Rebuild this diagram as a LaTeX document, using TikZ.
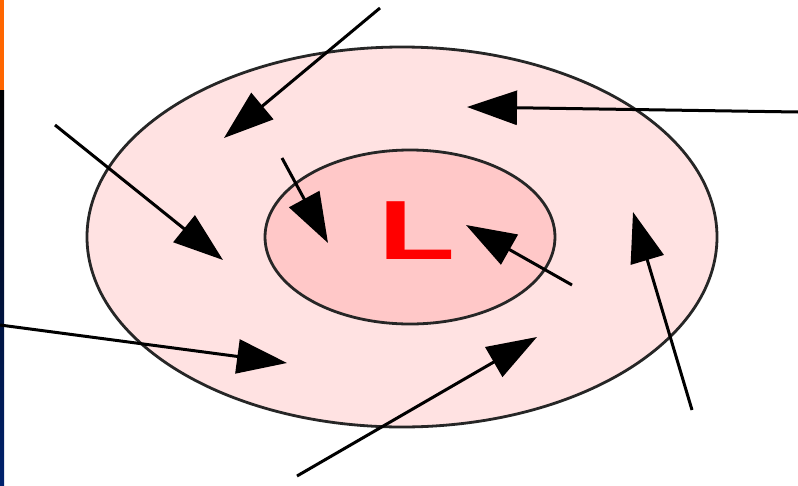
\documentclass[tikz,border=0pt]{standalone}
\usepackage{fontspec}
\setmainfont{Liberation Sans}
\usetikzlibrary{arrows.meta}
\definecolor{outerpink}{RGB}{255,226,226}
\definecolor{innerpink}{RGB}{255,200,200}
\definecolor{barorange}{RGB}{255,102,0}
\definecolor{barnavy}{RGB}{0,34,110}
\tikzset{
  wind/.style={draw=black, line width=3pt, -{Triangle[length=50pt,width=34pt]}},
  rim/.style={draw=black!85, line width=2.8pt}
}
\begin{document}
\begin{tikzpicture}[x=1pt,y=-1pt]
\useasboundingbox (0,0) rectangle (798,485);
\fill[white] (0,0) rectangle (798,485);
% left bar
\fill[barorange] (0,0) rectangle (4,90);
\shade[top color=black, bottom color=barnavy] (0,90) rectangle (4,485);
% ellipses
\path[rim, fill=outerpink] (402,237) ellipse [x radius=315, y radius=190];
\path[rim, fill=innerpink] (410,237) ellipse [x radius=145, y radius=87];
\node[text=red, font=\bfseries\fontsize{84}{84}\selectfont, inner sep=0pt] (L) at (417,231) {\scalebox{1.5}[1]{L}};
% wind arrows
\coordinate (a1) at (380,8);   \coordinate (b1) at (224,138);
\coordinate (a2) at (798,112); \coordinate (b2) at (467,107);
\coordinate (a3) at (55,125);  \coordinate (b3) at (223,260);
\coordinate (a4) at (282,158); \coordinate (b4) at (328,243);
\coordinate (a5) at (572,285); \coordinate (b5) at (466,225);
\coordinate (a6) at (0,325);   \coordinate (b6) at (287,363);
\coordinate (a7) at (297,476); \coordinate (b7) at (537,337);
\coordinate (a8) at (692,410); \coordinate (b8) at (633,212);
\foreach \i in {1,...,8}{\draw[wind] (a\i) -- (b\i);}
\end{tikzpicture}
\end{document}
